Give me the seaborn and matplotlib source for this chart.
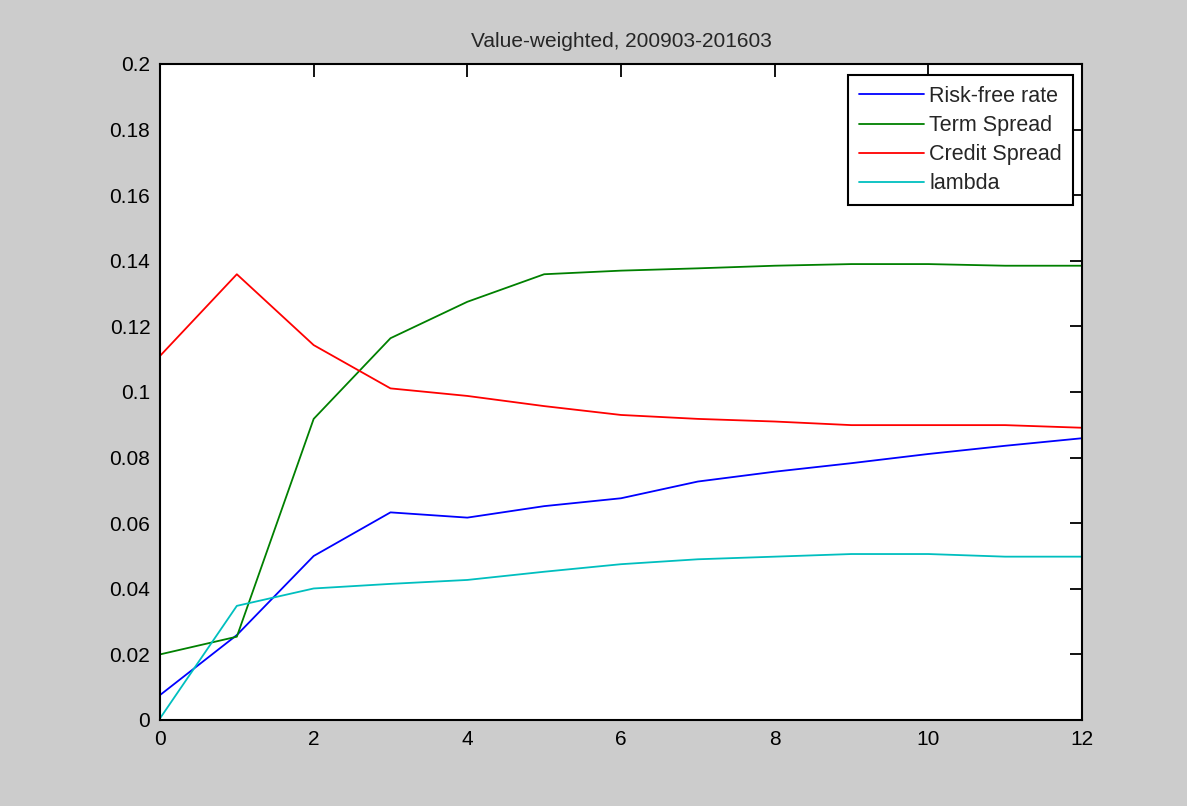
import numpy as np
import pandas as pd
import matplotlib
matplotlib.use("Agg")
import matplotlib.pyplot as plt
import seaborn as sns
from matplotlib.ticker import FuncFormatter

# Horizon (months) and response of each factor
horizon = [0, 1, 2, 3, 4, 5, 6, 7, 8, 9, 10, 11, 12]
risk_free = [0.0076, 0.0259, 0.0500, 0.0633, 0.0617, 0.0652, 0.0676, 0.0727, 0.0757, 0.0783, 0.0811, 0.0836, 0.0859]
term_spread = [0.0200, 0.0254, 0.0918, 0.1164, 0.1275, 0.1359, 0.1370, 0.1377, 0.1385, 0.1390, 0.1390, 0.1385, 0.1385]
credit_spread = [0.1110, 0.1359, 0.1143, 0.1011, 0.0988, 0.0957, 0.0930, 0.0918, 0.0910, 0.0899, 0.0899, 0.0899, 0.0891]
lambda_vals = [0.0005, 0.0348, 0.0401, 0.0415, 0.0427, 0.0452, 0.0475, 0.0490, 0.0498, 0.0506, 0.0506, 0.0498, 0.0498]

series_names = ["Risk-free rate", "Term Spread", "Credit Spread", "lambda"]
series_colors = ["#0000ff", "#008000", "#ff0000", "#00bfbf"]

df = pd.DataFrame({
    "horizon": horizon * 4,
    "value": risk_free + term_spread + credit_spread + lambda_vals,
    "series": [n for n in series_names for _ in horizon],
})

sns.set_style("white")
plt.rcParams["font.family"] = ["Liberation Sans", "DejaVu Sans"]

fig = plt.figure(figsize=(11.87, 8.06), dpi=100, facecolor="#cccccc")
ax = fig.add_axes([0.1348, 0.1067, 0.7767, 0.8139])
ax.set_facecolor("white")

sns.lineplot(data=df, x="horizon", y="value", hue="series", hue_order=series_names,
             palette=series_colors, linewidth=1.3, sort=False, ax=ax)

ax.set_xlim(0, 12)
ax.set_ylim(0, 0.2)
ax.set_xticks(np.arange(0, 13, 2))
ax.set_yticks(np.arange(0, 0.201, 0.02))
ax.yaxis.set_major_formatter(FuncFormatter(lambda v, p: "{:g}".format(round(v, 4))))
ax.set_xlabel("")
ax.set_ylabel("")
ax.tick_params(direction="in", length=9, width=1.3, top=True, right=True,
               labelsize=15, pad=7, colors="black")
for s in ax.spines.values():
    s.set_visible(True)
    s.set_color("black")
    s.set_linewidth(1.5)

ax.set_title("Value-weighted, 200903-201603", fontsize=15, pad=12)

leg = ax.legend(loc="upper right", bbox_to_anchor=(0.990, 0.983), fontsize=15.5,
                frameon=True, fancybox=False, framealpha=1, edgecolor="black",
                handlelength=3.0, handletextpad=0.25, labelspacing=0.38,
                borderpad=0.5, borderaxespad=0)
leg.get_frame().set_linewidth(1.5)

fig.savefig("out.png", dpi=100, facecolor=fig.get_facecolor())
